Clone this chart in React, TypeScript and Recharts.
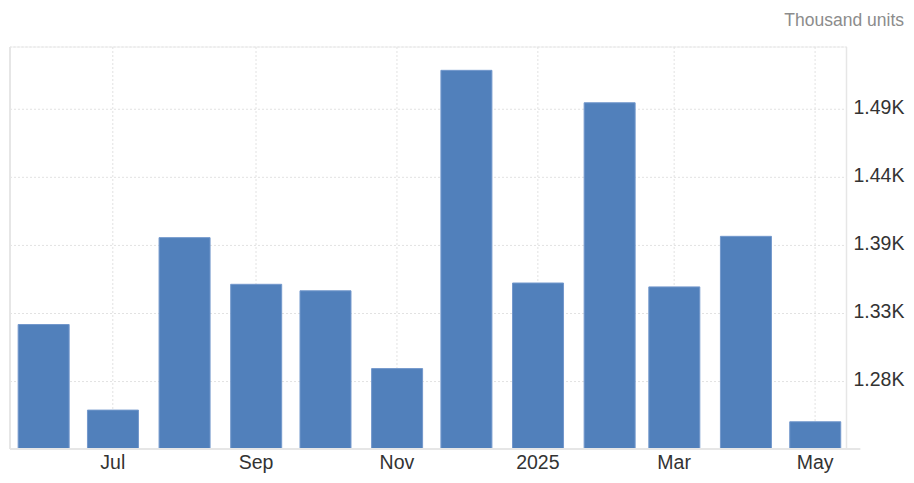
import React from "react";
import { BarChart, Bar, XAxis, YAxis, CartesianGrid, ReferenceLine } from "recharts";

const months = ["2024-06", "2024-07", "2024-08", "2024-09", "2024-10", "2024-11", "2024-12", "2025-01", "2025-02", "2025-03", "2025-04", "2025-05"];
const values = [1324, 1258, 1391, 1355, 1350, 1290, 1520, 1356, 1495, 1353, 1392, 1249];

const xTickMonths = ["2024-07", "2024-09", "2024-11", "2025-01", "2025-03", "2025-05"];
const xTickLabels = ["Jul", "Sep", "Nov", "2025", "Mar", "May"];

const yTicks = [1280, 1332.5, 1385, 1437.5, 1490];
const yTickLabels = ["1.28K", "1.33K", "1.39K", "1.44K", "1.49K"];

const unitLabel = "Thousand units";

const toDay = (m: string) => {
  const [y, mo] = m.split("-").map(Number);
  return Date.UTC(y, mo - 1, 1) / 86400000;
};

const data = months.map((m, i) => ({ t: toDay(m), v: values[i] }));
const xTicks = xTickMonths.map(toDay);
const xMin = toDay(months[0]) - 14.5;
const xMax = toDay(months[months.length - 1]) + 13.6;
const yMin = 1228;
const yMax = 1538;

const FONT = "'Liberation Sans', Arial, sans-serif";
const FS = 19.5;

const XTick = (props: any) => {
  const { x, y, payload } = props;
  const idx = xTicks.indexOf(payload.value);
  return (
    <text x={x} y={y + 20.3} textAnchor="middle" fontFamily={FONT} fontSize={FS} fill="#333">
      {idx >= 0 ? xTickLabels[idx] : ""}
    </text>
  );
};

const YTick = (props: any) => {
  const { x, y, payload } = props;
  const idx = yTicks.indexOf(payload.value);
  return (
    <text x={x} y={y + 0.355 * FS - 2.5} textAnchor="start" fontFamily={FONT} fontSize={FS} fill="#333">
      {idx >= 0 ? yTickLabels[idx] : ""}
    </text>
  );
};

export default function App() {
  return (
    <div style={{ position: "absolute", left: 0, top: 0, width: 914, height: 483, background: "#fff" }}>
      <BarChart width={914} height={483} data={data} margin={{ top: 47, right: 0, bottom: 0, left: 10 }}>
        <CartesianGrid stroke="#e2e2e2" strokeDasharray="2 2" />
        <XAxis
          dataKey="t"
          type="number"
          domain={[xMin, xMax]}
          ticks={xTicks}
          axisLine={false}
          tickLine={false}
          tickSize={0}
          tickMargin={0}
          height={34}
          tick={<XTick />}
          interval={0}
          allowDataOverflow
        />
        <YAxis
          orientation="right"
          type="number"
          domain={[yMin, yMax]}
          ticks={yTicks}
          width={67.5}
          axisLine={{ stroke: "#e6e6e6", strokeWidth: 1.5 }}
          tickLine={false}
          tickSize={0}
          tickMargin={7}
          tick={<YTick />}
          interval={0}
          allowDataOverflow
        />
        <ReferenceLine y={yMax} stroke="#e2e2e2" strokeDasharray="2 2" />
        <ReferenceLine x={xMin} stroke="#e6e6e6" strokeWidth={2} />
        <Bar dataKey="v" fill="#5180bb" stroke="#7398cc" strokeWidth={1} barSize={51} isAnimationActive={false} />
        <ReferenceLine
          segment={[{ x: xMin, y: yMin }, { x: xMax + 6, y: yMin }]}
          stroke="#e6e6e6"
          strokeWidth={2}
          ifOverflow="visible"
        />
      </BarChart>
      <svg width={914} height={40} style={{ position: "absolute", left: 0, top: 0 }}>
        <text x={904} y={26} textAnchor="end" fontFamily={FONT} fontSize={17.5} fill="#8c8c8c">
          {unitLabel}
        </text>
      </svg>
    </div>
  );
}
